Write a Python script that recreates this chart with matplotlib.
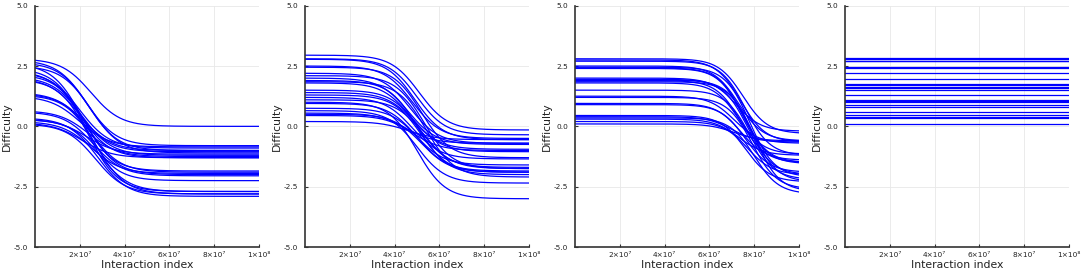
import numpy as np
import matplotlib
matplotlib.use("Agg")
import matplotlib.pyplot as plt

# ---------------- data ----------------
x_max = 1e8
xtick_vals = [2e7, 4e7, 6e7, 8e7, 1e8]
xtick_labels = ["2×10⁷", "4×10⁷", "6×10⁷", "8×10⁷", "1×10⁸"]
ytick_vals = [-5.0, -2.5, 0.0, 2.5, 5.0]
ytick_labels = ["-5.0", "-2.5", "0.0", "2.5", "5.0"]

# Panel 1: start level, end level, transition midpoint (interaction index)
p1_start = [2.8, 2.75, 2.65, 2.6, 2.5, 2.4, 2.3, 2.25, 2.15, 2.05, 1.95, 1.4,
            1.35, 1.3, 1.25, 0.65, 0.6, 0.35, 0.3, 0.28, 0.2, 0.15, 0.1, 2.0]
p1_end = [0.0, -0.8, -1.0, -1.85, -1.1, -2.25, -1.3, -0.9, -2.0, -1.2, -2.7, -1.0,
          -1.9, -2.8, -0.85, -1.25, -2.05, -2.9, -1.15, -2.7, -1.95, -1.3, -2.8, -1.05]
p1_mid = [2.5e7, 2.3e7, 2.4e7, 2.1e7, 2.5e7, 2.2e7, 2.0e7, 2.0e7, 2.3e7, 2.1e7,
          2.4e7, 2.2e7, 2.5e7, 2.7e7, 2.0e7, 2.4e7, 2.6e7, 2.8e7, 2.3e7, 2.9e7,
          2.5e7, 2.1e7, 2.7e7, 2.0e7]
p1_scale = 6.6e6

# Panel 2
p2_start = [2.95, 2.8, 2.78, 2.5, 2.45, 2.2, 2.1, 2.0, 1.9, 1.85, 1.8, 1.5,
            1.4, 1.3, 1.2, 1.0, 0.95, 0.75, 0.65, 0.55, 0.5, 0.45, 0.2, 1.1]
p2_end = [-0.15, -0.35, -0.55, -0.5, -1.3, -0.7, -1.75, -0.75, -1.9, -2.1, -0.95,
          -1.7, -1.05, -2.0, -1.35, -3.0, -1.6, -1.85, -2.35, -0.7, -1.9, -1.0,
          -0.55, -1.75]
p2_mid = [5.1e7, 5.0e7, 4.9e7, 4.8e7, 5.2e7, 4.7e7, 5.3e7, 4.6e7, 5.0e7, 5.4e7,
          4.7e7, 5.1e7, 4.9e7, 5.2e7, 4.8e7, 5.0e7, 4.9e7, 5.1e7, 5.0e7, 4.5e7,
          5.2e7, 4.8e7, 4.6e7, 5.3e7]
p2_scale = 6.3e6

# Panel 3
p3_start = [2.8, 2.75, 2.7, 2.5, 2.45, 2.4, 2.0, 1.95, 1.9, 1.85, 1.8, 1.5,
            1.25, 1.2, 0.95, 0.9, 0.45, 0.4, 0.35, 0.3, 0.2, 0.1, 1.92, 2.42]
p3_end = [-0.3, -0.65, -1.2, -0.6, -2.1, -1.55, -0.2, -2.0, -1.5, -2.7, -1.15,
          -2.2, -0.7, -2.6, -1.4, -1.9, -2.3, -0.65, -2.8, -1.2, -2.0, -0.6,
          -2.3, -1.5]
p3_mid = [7.5e7, 7.4e7, 7.6e7, 7.3e7, 7.8e7, 7.5e7, 7.2e7, 7.7e7, 7.4e7, 8.0e7,
          7.3e7, 7.8e7, 7.1e7, 7.9e7, 7.4e7, 7.6e7, 7.6e7, 7.0e7, 8.0e7, 7.3e7,
          7.7e7, 7.1e7, 7.9e7, 7.5e7]
p3_scale = 5.5e6

# Panel 4: constant difficulty levels
p4_level = [2.85, 2.8, 2.72, 2.7, 2.45, 2.42, 2.2, 1.95, 1.75, 1.7, 1.6, 1.5,
            1.3, 1.1, 1.05, 1.0, 0.9, 0.8, 0.6, 0.45, 0.4, 0.35, 0.1, 1.65]

# ---------------- drawing ----------------
W, H = 1084, 273
fig = plt.figure(figsize=(W / 100, H / 100), dpi=100)

line_color = (0.0, 0.0, 1.0)
x = np.linspace(0, x_max, 500)


def logistic_curve(s, e, m, sc):
    return e + (s - e) / (1.0 + np.exp((x - m) / sc))


lefts = [35, 305, 575, 845]
ax_w = 224
ax_top, ax_bot = 5.7, 247
ax_h = ax_bot - ax_top


def style_axes(ax):
    ax.set_xlim(0, x_max)
    ax.set_ylim(-5, 5)
    ax.set_xticks(xtick_vals)
    ax.set_xticklabels(xtick_labels, fontsize=5.3, color="#222222")
    ax.set_yticks(ytick_vals)
    ax.set_yticklabels(ytick_labels, fontsize=5.3, color="#222222")
    ax.grid(True, color="#e8e8e8", linewidth=0.6)
    ax.set_axisbelow(True)
    for s in ["top", "right"]:
        ax.spines[s].set_visible(False)
    for s in ["left", "bottom"]:
        ax.spines[s].set_color("#333333")
        ax.spines[s].set_linewidth(1.2)
    ax.tick_params(axis="x", direction="in", length=2.5, width=0.8,
                   color="#333333", pad=3.5)
    ax.tick_params(axis="y", direction="in", length=2.5, width=0.8,
                   color="#333333", pad=5)
    ax.set_xlabel("Interaction index", fontsize=7.8, color="#222222")
    ax.set_ylabel("Difficulty", fontsize=7.8, color="#222222")
    ax.xaxis.set_label_coords(0.5, (247 - 265) / ax_h)
    ax.xaxis.label.set_verticalalignment("center")
    ax.yaxis.set_label_coords((7 - 35) / ax_w, 0.5)
    ax.yaxis.label.set_verticalalignment("center")


axes = []
for lp in lefts:
    ax = fig.add_axes([lp / W, 1 - ax_bot / H, ax_w / W, ax_h / H])
    axes.append(ax)

panels = [(p1_start, p1_end, p1_mid, p1_scale),
          (p2_start, p2_end, p2_mid, p2_scale),
          (p3_start, p3_end, p3_mid, p3_scale)]
for ax, (st, en, md, sc) in zip(axes[:3], panels):
    for s, e, m in zip(st, en, md):
        ax.plot(x, logistic_curve(s, e, m, sc), color=line_color, linewidth=0.9)
    style_axes(ax)

for lv in p4_level:
    axes[3].plot([0, x_max], [lv, lv], color=line_color, linewidth=0.9)
style_axes(axes[3])

fig.savefig("out.png", dpi=100)
